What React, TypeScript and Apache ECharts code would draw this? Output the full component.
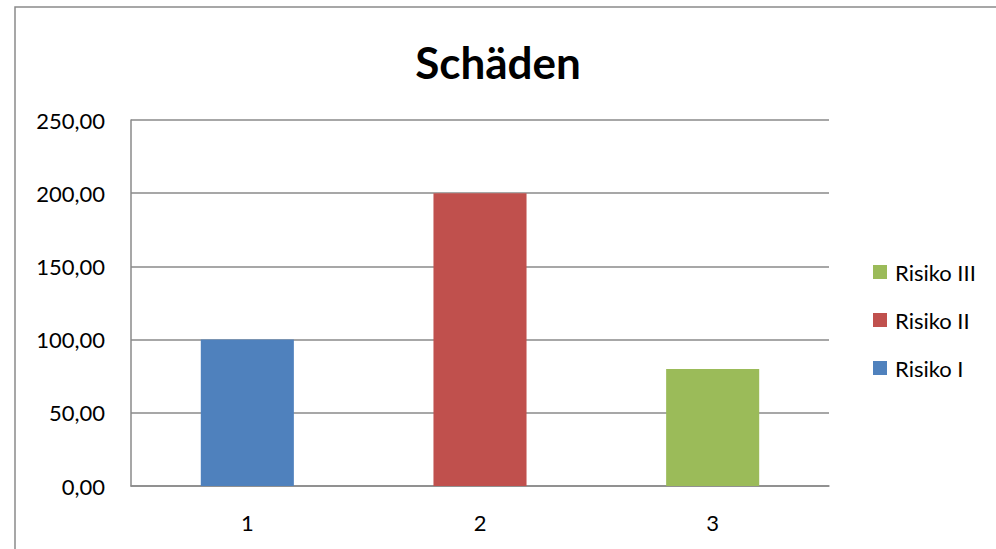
import React, { useEffect, useRef } from "react";
import * as echarts from "echarts";

const categories = ["1", "2", "3"];
const seriesNames = ["Risiko I", "Risiko II", "Risiko III"];
const risikoI = [100, "-", "-"];
const risikoII = ["-", 200, "-"];
const risikoIII = ["-", "-", 80];
const colors = ["#4F81BD", "#C0504D", "#9BBB59"];
const legendOrder = ["Risiko III", "Risiko II", "Risiko I"];
const yMin = 0;
const yMax = 250;
const yInterval = 50;

export default function App() {
  const ref = useRef<HTMLDivElement>(null);
  useEffect(() => {
    if (!ref.current) return;
    const chart = echarts.init(ref.current, null, { renderer: "svg" });
    const font = "Lato, 'Open Sans', sans-serif";
    const values = [risikoI, risikoII, risikoIII];
    chart.setOption({
      animation: false,
      backgroundColor: "#ffffff",
      title: {
        text: "Schäden",
        left: "center",
        top: 35,
        textStyle: { fontFamily: font, fontSize: 44, fontWeight: "bold", color: "#000", lineHeight: 44 },
      },
      graphic: [
        {
          type: "rect",
          shape: { x: 15, y: 7, width: 1100, height: 700 },
          style: { fill: "none", stroke: "#8a8a8a", lineWidth: 1.5 },
          silent: true,
        },
      ],
      legend: {
        orient: "vertical",
        left: 873,
        top: 261,
        padding: 0,
        data: legendOrder,
        itemWidth: 14,
        itemHeight: 14,
        itemGap: 26,
        icon: "rect",
        textStyle: { fontFamily: font, fontSize: 22, color: "#000", lineHeight: 22, padding: [0, 0, 0, 3] },
      },
      grid: { left: 131, top: 120, right: 167, bottom: 63 },
      xAxis: {
        type: "category",
        data: categories,
        axisLine: { show: true, lineStyle: { color: "#8a8a8a", width: 1.5 } },
        axisTick: { show: false },
        axisLabel: { fontFamily: font, fontSize: 22, color: "#000", margin: 25 },
      },
      yAxis: {
        type: "value",
        min: yMin,
        max: yMax,
        interval: yInterval,
        axisLine: { show: true, lineStyle: { color: "#8a8a8a", width: 1.5 } },
        axisTick: { show: false },
        splitLine: { show: true, lineStyle: { color: "#8a8a8a", width: 1.5 } },
        axisLabel: {
          fontFamily: font,
          fontSize: 22,
          color: "#000",
          margin: 26,
          formatter: (v: number) => v.toFixed(2).replace(".", ","),
        },
      },
      series: seriesNames.map((name, i) => ({
        name,
        type: "bar",
        stack: "total",
        barWidth: "40%",
        data: values[i],
        itemStyle: { color: colors[i] },
      })),
    });
    return () => chart.dispose();
  }, []);
  return <div ref={ref} style={{ position: "fixed", left: 0, top: 0, width: 996, height: 549 }} />;
}
